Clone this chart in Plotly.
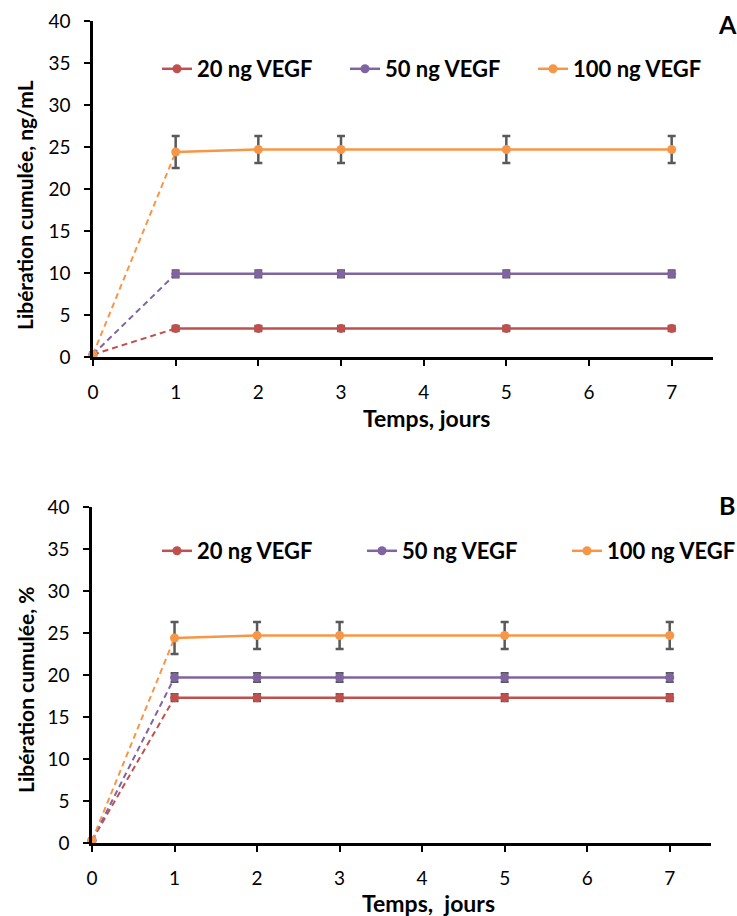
import plotly.graph_objects as go

days = [0, 1, 2, 3, 5, 7]
series_names = ["20 ng VEGF", "50 ng VEGF", "100 ng VEGF"]
colors = ["#C0504D", "#8064A2", "#F79646"]

# Panel A: cumulative release, ng/mL
a_20 = [0.3, 3.4, 3.4, 3.4, 3.4, 3.4]
a_50 = [0.3, 9.9, 9.9, 9.9, 9.9, 9.9]
a_100 = [0.3, 24.4, 24.7, 24.7, 24.7, 24.7]
a_err_20 = [0, 0.3, 0.3, 0.3, 0.3, 0.3]
a_err_50 = [0, 0.4, 0.4, 0.4, 0.4, 0.4]
a_err_100 = [0, 1.9, 1.6, 1.6, 1.6, 1.6]

# Panel B: cumulative release, %
b_20 = [0.3, 17.3, 17.3, 17.3, 17.3, 17.3]
b_50 = [0.3, 19.7, 19.7, 19.7, 19.7, 19.7]
b_100 = [0.3, 24.4, 24.7, 24.7, 24.7, 24.7]
b_err_20 = [0, 0.4, 0.4, 0.4, 0.4, 0.4]
b_err_50 = [0, 0.5, 0.5, 0.5, 0.5, 0.5]
b_err_100 = [0, 1.9, 1.6, 1.6, 1.6, 1.6]

x_ticks = [0, 1, 2, 3, 4, 5, 6, 7]
y_ticks = [0, 5, 10, 15, 20, 25, 30, 35, 40]

FONT = "Lato"
ERR_COLOR = "#595959"

fig = go.Figure()

panels = [
    ("x", "y", "legend", [a_20, a_50, a_100], [a_err_20, a_err_50, a_err_100]),
    ("x2", "y2", "legend2", [b_20, b_50, b_100], [b_err_20, b_err_50, b_err_100]),
]

for xa, ya, lg, vals, errs in panels:
    # dashed segment day 0 -> day 1
    for i in range(3):
        fig.add_trace(go.Scatter(
            x=days[:2], y=vals[i][:2], mode="lines",
            line=dict(color=colors[i], width=2, dash="6px,4px"),
            showlegend=False, xaxis=xa, yaxis=ya, hoverinfo="skip", cliponaxis=False))
    # solid segment with error bars
    for i in range(3):
        fig.add_trace(go.Scatter(
            x=days[1:], y=vals[i][1:], mode="lines+markers", name=series_names[i],
            line=dict(color=colors[i], width=2.5),
            marker=dict(color=colors[i], size=9),
            error_y=dict(type="data", array=errs[i][1:], color=ERR_COLOR, thickness=2.5, width=4),
            xaxis=xa, yaxis=ya, legend=lg, cliponaxis=False))
    # day 0 markers
    for i in range(3):
        fig.add_trace(go.Scatter(
            x=days[:1], y=vals[i][:1], mode="markers",
            marker=dict(color=colors[i], size=9),
            showlegend=False, xaxis=xa, yaxis=ya, cliponaxis=False))

W, H = 737, 916
axis_common = dict(showline=True, linecolor="black", linewidth=2.5, ticks="outside",
                   ticklen=6, tickwidth=2, tickcolor="black", showgrid=False, zeroline=False,
                   automargin=False,
                   tickfont=dict(family=FONT, size=19, color="black"))

legend_font = dict(family=FONT, size=22, color="black", weight="bold")

fig.update_layout(
    width=W, height=H, margin=dict(l=0, r=0, t=0, b=0, autoexpand=False),
    plot_bgcolor="white", paper_bgcolor="white",
    font=dict(family=FONT, color="black"),
    xaxis=dict(domain=[93 / W, 713 / W], range=[0, 7.5], tickvals=x_ticks, anchor="y",
               ticklabelstandoff=10, **axis_common),
    yaxis=dict(domain=[1 - 357 / H, 1 - 21 / H], range=[0, 40], tickvals=y_ticks, anchor="x",
               ticklabelstandoff=10, **axis_common),
    xaxis2=dict(domain=[92 / W, 711 / W], range=[0, 7.5], tickvals=x_ticks, anchor="y2",
                ticklabelstandoff=10, **axis_common),
    yaxis2=dict(domain=[1 - 843 / H, 1 - 507 / H], range=[0, 40], tickvals=y_ticks, anchor="x2",
                ticklabelstandoff=10, **axis_common),
    legend=dict(orientation="h", x=157 / W, y=1 - 69 / H, xanchor="left", yanchor="middle",
                entrywidth=143, entrywidthmode="pixels", bgcolor="rgba(0,0,0,0)",
                tracegroupgap=0, font=legend_font),
    legend2=dict(orientation="h", x=157 / W, y=1 - 551 / H, xanchor="left", yanchor="middle",
                 entrywidth=160, entrywidthmode="pixels", bgcolor="rgba(0,0,0,0)",
                 tracegroupgap=0, font=legend_font),
)

annots = [
    dict(text="<b>Libération cumulée, ng/mL</b>", x=25 / W, y=1 - 205 / H, textangle=-90, size=21),
    dict(text="<b>Temps, jours</b>", x=426 / W, y=1 - 418 / H, size=23),
    dict(text="<b>Libération cumulée, %</b>", x=25 / W, y=1 - 690 / H, textangle=-90, size=21),
    dict(text="<b>Temps,  jours</b>", x=428 / W, y=1 - 903 / H, size=23),
    dict(text="<b>A</b>", x=727 / W, y=1 - 24 / H, size=25),
    dict(text="<b>B</b>", x=727 / W, y=1 - 505 / H, size=25),
]
for a in annots:
    fig.add_annotation(text=a["text"], x=a["x"], y=a["y"], xref="paper", yref="paper",
                       showarrow=False, xanchor="center", yanchor="middle",
                       textangle=a.get("textangle", 0),
                       font=dict(family=FONT, size=a.get("size", 17), color="black"))

fig.write_html("out.html", config={"displayModeBar": False},
               post_script="document.body.style.margin='0';")
